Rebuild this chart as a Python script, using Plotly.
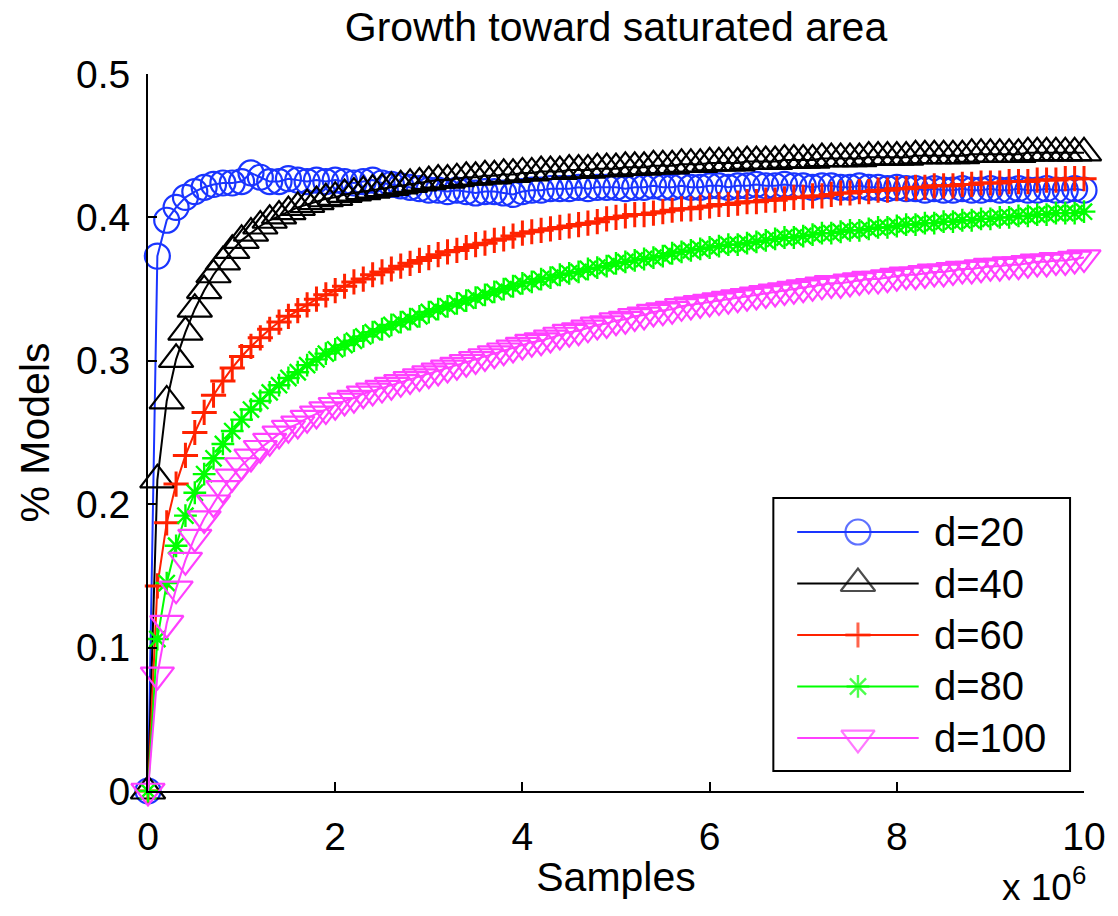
import plotly.graph_objects as go

# ---------------- data ----------------
samples_millions = [
    0.0, 0.1, 0.2, 0.3, 0.4, 0.5, 0.6, 0.7, 0.8, 0.9,
    1.0, 1.1, 1.2, 1.3, 1.4, 1.5, 1.6, 1.7, 1.8, 1.9,
    2.0, 2.1, 2.2, 2.3, 2.4, 2.5, 2.6, 2.7, 2.8, 2.9,
    3.0, 3.1, 3.2, 3.3, 3.4, 3.5, 3.6, 3.7, 3.8, 3.9,
    4.0, 4.1, 4.2, 4.3, 4.4, 4.5, 4.6, 4.7, 4.8, 4.9,
    5.0, 5.1, 5.2, 5.3, 5.4, 5.5, 5.6, 5.7, 5.8, 5.9,
    6.0, 6.1, 6.2, 6.3, 6.4, 6.5, 6.6, 6.7, 6.8, 6.9,
    7.0, 7.1, 7.2, 7.3, 7.4, 7.5, 7.6, 7.7, 7.8, 7.9,
    8.0, 8.1, 8.2, 8.3, 8.4, 8.5, 8.6, 8.7, 8.8, 8.9,
    9.0, 9.1, 9.2, 9.3, 9.4, 9.5, 9.6, 9.7, 9.8, 9.9,
    10.0,
]

d20 = [
    0.0, 0.373, 0.398, 0.407, 0.414, 0.418, 0.421, 0.423, 0.424, 0.424,
    0.425, 0.431, 0.428, 0.425, 0.425, 0.427, 0.426, 0.425, 0.426, 0.425,
    0.426, 0.425, 0.424, 0.425, 0.426, 0.424, 0.423, 0.422, 0.421, 0.420,
    0.419, 0.419, 0.418, 0.419, 0.418, 0.417, 0.418, 0.418, 0.417, 0.416,
    0.418, 0.419, 0.419, 0.420, 0.420, 0.420, 0.421, 0.420, 0.421, 0.421,
    0.421, 0.420, 0.421, 0.421, 0.422, 0.421, 0.421, 0.422, 0.421, 0.421,
    0.422, 0.422, 0.421, 0.422, 0.422, 0.423, 0.422, 0.422, 0.423, 0.422,
    0.422, 0.421, 0.422, 0.422, 0.421, 0.421, 0.422, 0.421, 0.421, 0.420,
    0.421, 0.420, 0.420, 0.419, 0.420, 0.419, 0.419, 0.420, 0.419, 0.419,
    0.420, 0.419, 0.419, 0.420, 0.419, 0.419, 0.420, 0.419, 0.419, 0.420,
    0.419,
]

d40 = [
    0.0, 0.217, 0.272, 0.301, 0.320, 0.336, 0.349, 0.360, 0.369, 0.377,
    0.384, 0.389, 0.394, 0.398, 0.401, 0.404, 0.407, 0.409, 0.411, 0.413,
    0.414, 0.416, 0.417, 0.418, 0.419, 0.420, 0.421, 0.422, 0.423, 0.424,
    0.425, 0.426, 0.426, 0.427, 0.428, 0.428, 0.429, 0.429, 0.430, 0.430,
    0.431, 0.431, 0.432, 0.432, 0.432, 0.433, 0.433, 0.433, 0.434, 0.434,
    0.434, 0.435, 0.435, 0.435, 0.436, 0.436, 0.436, 0.437, 0.437, 0.437,
    0.438, 0.438, 0.438, 0.438, 0.439, 0.439, 0.439, 0.439, 0.440, 0.440,
    0.440, 0.440, 0.441, 0.441, 0.441, 0.441, 0.441, 0.442, 0.442, 0.442,
    0.442, 0.442, 0.443, 0.443, 0.443, 0.443, 0.443, 0.443, 0.444, 0.444,
    0.444, 0.444, 0.444, 0.444, 0.445, 0.445, 0.445, 0.445, 0.445, 0.445,
    0.445,
]

d60 = [
    0.0, 0.143, 0.187, 0.214, 0.234, 0.250, 0.264, 0.276, 0.286, 0.295,
    0.303, 0.310, 0.316, 0.322, 0.327, 0.331, 0.335, 0.339, 0.343, 0.346,
    0.349, 0.352, 0.355, 0.357, 0.360, 0.362, 0.364, 0.366, 0.368, 0.370,
    0.372, 0.374, 0.376, 0.377, 0.379, 0.381, 0.382, 0.384, 0.385, 0.387,
    0.389, 0.390, 0.391, 0.392, 0.393, 0.394, 0.395, 0.396, 0.397, 0.399,
    0.400, 0.401, 0.402, 0.402, 0.403, 0.404, 0.405, 0.406, 0.406, 0.407,
    0.408, 0.409, 0.409, 0.410, 0.411, 0.411, 0.412, 0.412, 0.413, 0.414,
    0.414, 0.415, 0.415, 0.416, 0.417, 0.417, 0.418, 0.418, 0.419, 0.419,
    0.420, 0.420, 0.421, 0.421, 0.422, 0.422, 0.422, 0.423, 0.423, 0.424,
    0.424, 0.424, 0.425, 0.425, 0.425, 0.426, 0.426, 0.426, 0.427, 0.427,
    0.427,
]

d80 = [
    0.0, 0.106, 0.145, 0.171, 0.192, 0.208, 0.221, 0.232, 0.242, 0.251,
    0.259, 0.266, 0.272, 0.278, 0.283, 0.288, 0.292, 0.297, 0.301, 0.305,
    0.308, 0.311, 0.314, 0.317, 0.320, 0.322, 0.325, 0.327, 0.329, 0.331,
    0.334, 0.336, 0.338, 0.340, 0.342, 0.344, 0.346, 0.348, 0.350, 0.352,
    0.354, 0.355, 0.357, 0.358, 0.360, 0.361, 0.362, 0.364, 0.365, 0.366,
    0.368, 0.369, 0.370, 0.371, 0.372, 0.373, 0.375, 0.376, 0.377, 0.378,
    0.379, 0.380, 0.381, 0.381, 0.382, 0.383, 0.384, 0.385, 0.386, 0.386,
    0.387, 0.388, 0.389, 0.389, 0.390, 0.391, 0.391, 0.392, 0.393, 0.393,
    0.394, 0.395, 0.395, 0.396, 0.396, 0.397, 0.397, 0.398, 0.398, 0.399,
    0.399, 0.400, 0.400, 0.401, 0.401, 0.402, 0.402, 0.403, 0.403, 0.403,
    0.404,
]

d100 = [
    0.0, 0.081, 0.117, 0.141, 0.161, 0.177, 0.190, 0.201, 0.211, 0.219,
    0.227, 0.233, 0.239, 0.244, 0.249, 0.253, 0.256, 0.260, 0.263, 0.266,
    0.269, 0.272, 0.274, 0.277, 0.279, 0.281, 0.283, 0.285, 0.287, 0.289,
    0.291, 0.293, 0.295, 0.297, 0.299, 0.301, 0.303, 0.305, 0.307, 0.309,
    0.311, 0.313, 0.314, 0.316, 0.318, 0.320, 0.321, 0.323, 0.325, 0.326,
    0.328, 0.329, 0.331, 0.332, 0.334, 0.335, 0.336, 0.338, 0.339, 0.340,
    0.341, 0.342, 0.343, 0.344, 0.345, 0.346, 0.347, 0.348, 0.349, 0.350,
    0.351, 0.352, 0.353, 0.354, 0.354, 0.355, 0.356, 0.357, 0.357, 0.358,
    0.359, 0.360, 0.360, 0.361, 0.362, 0.362, 0.363, 0.364, 0.364, 0.365,
    0.366, 0.366, 0.367, 0.367, 0.368, 0.369, 0.369, 0.370, 0.370, 0.371,
    0.372,
]

series_names = ["d=20", "d=40", "d=60", "d=80", "d=100"]
series_values = [d20, d40, d60, d80, d100]

x_tick_vals = [0, 2, 4, 6, 8, 10]
x_tick_text = ["0", "2", "4", "6", "8", "10"]
y_tick_vals = [0, 0.1, 0.2, 0.3, 0.4, 0.5]
y_tick_text = ["0", "0.1", "0.2", "0.3", "0.4", "0.5"]

# ---------------- styles ----------------
colors = ["#1a35ff", "#000000", "#ff2200", "#00ff00", "#ff40ff"]
symbols = ["circle-open", "triangle-up-open", "cross-thin-open",
           "asterisk-open", "triangle-down-open"]
sizes = [25, 30, 18, 19, 29]
mlw = [2.2, 2.2, 3.0, 2.4, 2.2]

FONT = "Liberation Sans, Arial, Helvetica, sans-serif"

fig = go.Figure()

for name, vals, c, s, sz, lw in zip(series_names, series_values, colors,
                                     symbols, sizes, mlw):
    fig.add_trace(go.Scatter(
        x=samples_millions, y=vals, name=name, mode="lines+markers",
        line=dict(color=c, width=2),
        marker=dict(symbol=s, size=sz, color=c, line=dict(color=c, width=lw)),
        cliponaxis=False, showlegend=False,
    ))

# ---------------- hand-built MATLAB-style legend ----------------
leg_x0, leg_x1 = 0.6681, 0.9851
leg_y0, leg_y1 = 0.0279, 0.4086
row_top = 0.3612
row_step = 0.0718
line_x0, line_x1 = 0.6936, 0.8234
text_x = 0.8372

fig.add_shape(type="rect", xref="paper", yref="paper",
              x0=leg_x0, x1=leg_x1, y0=leg_y0, y1=leg_y1,
              line=dict(color="black", width=2), fillcolor="white",
              layer="below")

for i, (name, c, s, sz, lw) in enumerate(zip(series_names, colors, symbols,
                                               sizes, mlw)):
    ry = row_top - i * row_step
    fig.add_trace(go.Scatter(
        x=[line_x0, (line_x0 + line_x1) / 2, line_x1], y=[ry, ry, ry],
        xaxis="x2", yaxis="y2", mode="lines+markers",
        line=dict(color=c, width=2),
        marker=dict(symbol=s, size=[0, sz, 0], color=c,
                    line=dict(color=c, width=lw)),
        showlegend=False, hoverinfo="skip", cliponaxis=False,
    ))
    fig.add_annotation(x=text_x, y=ry, xref="paper", yref="paper",
                       text=name, showarrow=False, xanchor="left",
                       yanchor="middle",
                       font=dict(family=FONT, size=40, color="black"))

fig.add_annotation(x=1.0043, y=-0.1655, xref="paper", yref="paper",
                   text="x 10<sup>6</sup>", showarrow=False,
                   xanchor="right", yanchor="bottom",
                   font=dict(family=FONT, size=37, color="black"))

axis_common = dict(
    showline=True, linecolor="black", linewidth=2,
    ticks="inside", ticklen=9, tickwidth=2, tickcolor="black",
    showgrid=False, zeroline=False,
    tickfont=dict(family=FONT, size=39, color="black"),
)

fig.update_layout(
    width=1118, height=916,
    margin=dict(l=148, r=30, t=74, b=125, pad=0),
    paper_bgcolor="white", plot_bgcolor="white",
    title=dict(text="Growth toward saturated area", x=0.5, xref="paper",
               y=1 - 27 / 916, yref="container", yanchor="middle",
               xanchor="center",
               font=dict(family=FONT, size=41, color="black")),
    xaxis=dict(range=[0, 10], tickvals=x_tick_vals, ticktext=x_tick_text,
               title=dict(text="Samples", standoff=6,
                          font=dict(family=FONT, size=41, color="black")),
               ticklabelstandoff=10,
               **axis_common),
    yaxis=dict(range=[0, 0.5], tickvals=y_tick_vals, ticktext=y_tick_text,
               title=dict(text="% Models", standoff=14,
                          font=dict(family=FONT, size=41, color="black")),
               ticklabelstandoff=8,
               **axis_common),
    xaxis2=dict(range=[0, 1], overlaying="x", visible=False,
                fixedrange=True),
    yaxis2=dict(range=[0, 1], overlaying="y", visible=False,
                fixedrange=True),
    showlegend=False,
)

fig.write_html("out.html")
